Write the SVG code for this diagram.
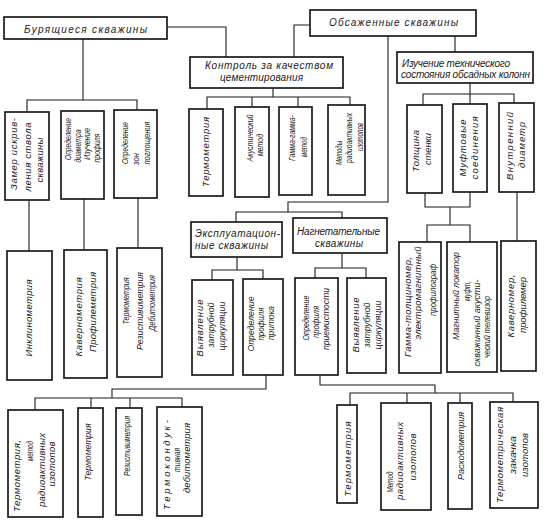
<svg xmlns="http://www.w3.org/2000/svg" width="546" height="520" viewBox="0 0 546 520">
<style>
rect.b{fill:#fff;stroke:#1a1a1a;stroke-width:1.7}
#connectors path{fill:none;stroke:#1a1a1a;stroke-width:1.1}
text{font-family:"Liberation Sans",Arial,sans-serif;font-style:italic;fill:#1a1a1a}
text.h{font-size:10px}
text.v{font-size:9.5px;text-anchor:middle}
</style>
<rect width="546" height="520" fill="#fff"/>
<g id="connectors">
<path d="M167 27H226V57"/>
<path d="M310 25H294V57"/>
<path d="M83 39V100M27 112V100H137V110"/>
<path d="M29 200V251M84 199V250M138 198V248"/>
<path d="M273 88V97M207 109V97H350V105M252 97V107M298 97V107"/>
<path d="M388 36V202H288V212M236 222V212H342V218"/>
<path d="M455 36V52"/>
<path d="M470 83V104M423 105V94H514V103"/>
<path d="M425 193V207H470V192M450 207V225M427 242V225H470V242"/>
<path d="M517 192V241"/>
<path d="M237 257V270M212 280V270H263V279"/>
<path d="M342 253V268M315 278V268H366V278"/>
<path d="M266 375V389H112V398M35 410V398H182V407M91 398V408M130 398V408"/>
<path d="M320 375V385H435V393M350 405V393H513V402M407 393V403M460 393V403"/>
</g>
<g id="n_bur"><rect class="b" x="4" y="17" width="163" height="22"/><text class="h" x="24" y="33" textLength="123">Бурящиеся  скважины</text></g>
<g id="n_obs"><rect class="b" x="310" y="10" width="166" height="26"/><text class="h" x="329" y="26" textLength="129">Обсаженные  скважины</text></g>
<g id="n_kontrol"><rect class="b" x="190" y="57" width="153" height="31"/><text class="h" x="205" y="69" textLength="128">Контроль за качеством</text><text class="h" x="220" y="81" textLength="83">цементирования</text></g>
<g id="n_izuch"><rect class="b" x="397" y="52" width="136" height="31"/><text class="h" x="402" y="67" textLength="108">Изучение технического</text><text class="h" x="401" y="78" textLength="129">состояния обсадных колонн</text></g>

<g id="n_zamer"><rect class="b" x="5" y="112" width="44" height="88"/>
<text class="v" transform="translate(17.3,154) rotate(-90)" textLength="72">Замер искрив-</text>
<text class="v" transform="translate(31.3,157) rotate(-90)" textLength="69">ления ствола</text>
<text class="v" transform="translate(43.3,160) rotate(-90)" textLength="45">скважины</text></g>
<g id="n_diam"><rect class="b" x="61" y="111" width="43" height="88"/>
<text class="v" transform="translate(71.3,139) rotate(-90)" textLength="42" lengthAdjust="spacingAndGlyphs">Определение</text>
<text class="v" transform="translate(81.3,146) rotate(-90)" textLength="33" lengthAdjust="spacingAndGlyphs">диаметра</text>
<text class="v" transform="translate(90.3,144) rotate(-90)" textLength="32" lengthAdjust="spacingAndGlyphs">Изучение</text>
<text class="v" transform="translate(100.3,148) rotate(-90)" textLength="29" lengthAdjust="spacingAndGlyphs">профиля</text></g>
<g id="n_zon"><rect class="b" x="114" y="110" width="43" height="88"/>
<text class="v" transform="translate(128.3,143) rotate(-90)" textLength="42" lengthAdjust="spacingAndGlyphs">Определение</text>
<text class="v" transform="translate(139.3,159) rotate(-90)" textLength="12" lengthAdjust="spacingAndGlyphs">зон</text>
<text class="v" transform="translate(150.3,143) rotate(-90)" textLength="43" lengthAdjust="spacingAndGlyphs">поглощения</text></g>

<g id="n_k_term"><rect class="b" x="189" y="109" width="34" height="87"/>
<text class="v" transform="translate(209.3,152) rotate(-90)" textLength="70">Термометрия</text></g>
<g id="n_k_akust"><rect class="b" x="235" y="107" width="34" height="90"/>
<text class="v" transform="translate(253.3,138) rotate(-90)" textLength="47" lengthAdjust="spacingAndGlyphs">Акустический</text>
<text class="v" transform="translate(263.3,145) rotate(-90)" textLength="22" lengthAdjust="spacingAndGlyphs">метод</text></g>
<g id="n_k_gamma"><rect class="b" x="279" y="107" width="33" height="88"/>
<text class="v" transform="translate(295.3,138) rotate(-90)" textLength="46" lengthAdjust="spacingAndGlyphs">Гамма-гамма-</text>
<text class="v" transform="translate(307.3,147) rotate(-90)" textLength="20" lengthAdjust="spacingAndGlyphs">метод</text></g>
<g id="n_k_metody"><rect class="b" x="328" y="105" width="37" height="90"/>
<text class="v" transform="translate(342.3,153) rotate(-90)" textLength="24" lengthAdjust="spacingAndGlyphs">Методы</text>
<text class="v" transform="translate(352.3,138) rotate(-90)" textLength="50" lengthAdjust="spacingAndGlyphs">радиоактивных</text>
<text class="v" transform="translate(363.3,137) rotate(-90)" textLength="28" lengthAdjust="spacingAndGlyphs">изотопов</text></g>

<g id="n_tolsh"><rect class="b" x="407" y="105" width="35" height="88"/>
<text class="v" transform="translate(419.3,151) rotate(-90)" textLength="42">Толщина</text>
<text class="v" transform="translate(431.3,149) rotate(-90)" textLength="32" lengthAdjust="spacingAndGlyphs">стенки</text></g>
<g id="n_muft"><rect class="b" x="453" y="104" width="34" height="88"/>
<text class="v" transform="translate(466.3,148) rotate(-90)" textLength="57">Муфтовые</text>
<text class="v" transform="translate(478.3,148) rotate(-90)" textLength="63">соединения</text></g>
<g id="n_vnutr"><rect class="b" x="499" y="103" width="35" height="89"/>
<text class="v" transform="translate(513.3,146) rotate(-90)" textLength="68">Внутренний</text>
<text class="v" transform="translate(525.3,145) rotate(-90)" textLength="46">диаметр</text></g>

<g id="n_inkl"><rect class="b" x="7" y="251" width="45" height="129"/>
<text class="v" transform="translate(32.3,318) rotate(-90)" textLength="77">Инклинометрия</text></g>
<g id="n_kavern"><rect class="b" x="64" y="250" width="43" height="128"/>
<text class="v" transform="translate(82.3,317) rotate(-90)" textLength="79">Кавернометрия</text>
<text class="v" transform="translate(96.3,312) rotate(-90)" textLength="80">Профилеметрия</text></g>
<g id="n_termrez"><rect class="b" x="117" y="248" width="45" height="129"/>
<text class="v" transform="translate(129.3,301) rotate(-90)" textLength="47" lengthAdjust="spacingAndGlyphs">Термометрия</text>
<text class="v" transform="translate(143.3,311) rotate(-90)" textLength="78" lengthAdjust="spacingAndGlyphs">Резистивиметрия</text>
<text class="v" transform="translate(155.3,303) rotate(-90)" textLength="56" lengthAdjust="spacingAndGlyphs">Дебитометрия</text></g>

<g id="n_ekspl"><rect class="b" x="191" y="222" width="91" height="35"/><text class="h" x="195" y="237" textLength="85">Эксплуатацион-</text><text class="h" x="195" y="249" textLength="73">ные скважины</text></g>
<g id="n_nagn"><rect class="b" x="293" y="218" width="94" height="35"/><text class="h" x="297" y="235" textLength="83">Нагнетательные</text><text class="h" x="315" y="247" textLength="48">скважины</text></g>

<g id="n_vyyav1"><rect class="b" x="192" y="280" width="41" height="95"/>
<text class="v" transform="translate(203.3,328) rotate(-90)" textLength="57">Выявление</text>
<text class="v" transform="translate(214.3,325) rotate(-90)" textLength="45" lengthAdjust="spacingAndGlyphs">затрубной</text>
<text class="v" transform="translate(225.3,326) rotate(-90)" textLength="49" lengthAdjust="spacingAndGlyphs">циркуляции</text></g>
<g id="n_pritok"><rect class="b" x="243" y="279" width="40" height="96"/>
<text class="v" transform="translate(254.3,324) rotate(-90)" textLength="55" lengthAdjust="spacingAndGlyphs">Определение</text>
<text class="v" transform="translate(264.3,324) rotate(-90)" textLength="33" lengthAdjust="spacingAndGlyphs">профиля</text>
<text class="v" transform="translate(274.3,323) rotate(-90)" textLength="34" lengthAdjust="spacingAndGlyphs">притока</text></g>
<g id="n_priem"><rect class="b" x="295" y="278" width="43" height="97"/>
<text class="v" transform="translate(309.3,318) rotate(-90)" textLength="45" lengthAdjust="spacingAndGlyphs">Определение</text>
<text class="v" transform="translate(319.3,322) rotate(-90)" textLength="32" lengthAdjust="spacingAndGlyphs">профиля</text>
<text class="v" transform="translate(329.3,319) rotate(-90)" textLength="62" lengthAdjust="spacingAndGlyphs">приемистости</text></g>
<g id="n_vyyav2"><rect class="b" x="347" y="278" width="39" height="95"/>
<text class="v" transform="translate(359.3,325) rotate(-90)" textLength="55">Выявление</text>
<text class="v" transform="translate(370.3,325) rotate(-90)" textLength="45" lengthAdjust="spacingAndGlyphs">затрубной</text>
<text class="v" transform="translate(381.3,325) rotate(-90)" textLength="49" lengthAdjust="spacingAndGlyphs">циркуляции</text></g>

<g id="n_gtolsh"><rect class="b" x="399" y="242" width="42" height="131"/>
<text class="v" transform="translate(411.3,307) rotate(-90)" textLength="100">Гамма-толщиномер,</text>
<text class="v" transform="translate(421.3,293) rotate(-90)" textLength="93">электромагнитный</text>
<text class="v" transform="translate(436.3,290) rotate(-90)" textLength="52" lengthAdjust="spacingAndGlyphs">профилограф</text></g>
<g id="n_magn"><rect class="b" x="447" y="242" width="50" height="130"/>
<text class="v" transform="translate(459.3,296) rotate(-90)" textLength="88" lengthAdjust="spacingAndGlyphs">Магнитный локатор</text>
<text class="v" transform="translate(470.3,291) rotate(-90)" textLength="20" lengthAdjust="spacingAndGlyphs">муфт,</text>
<text class="v" transform="translate(480.3,323) rotate(-90)" textLength="87" lengthAdjust="spacingAndGlyphs">скважинный акусти-</text>
<text class="v" transform="translate(490.3,327) rotate(-90)" textLength="62" lengthAdjust="spacingAndGlyphs">ческий телевизор</text></g>
<g id="n_kavprof"><rect class="b" x="501" y="241" width="35" height="130"/>
<text class="v" transform="translate(514.3,306) rotate(-90)" textLength="63">Каверномер,</text>
<text class="v" transform="translate(526.3,305) rotate(-90)" textLength="56">профилемер</text></g>

<g id="n_bl1"><rect class="b" x="8" y="410" width="55" height="107"/>
<text class="v" transform="translate(20.3,476) rotate(-90)" textLength="72">Термометрия,</text>
<text class="v" transform="translate(33.3,451) rotate(-90)" textLength="20" lengthAdjust="spacingAndGlyphs">метод</text>
<text class="v" transform="translate(45.3,470) rotate(-90)" textLength="74">радиоактивных</text>
<text class="v" transform="translate(55.3,464) rotate(-90)" textLength="45">изотопов</text></g>
<g id="n_bl2"><rect class="b" x="78" y="408" width="25" height="109"/>
<text class="v" transform="translate(91.3,452) rotate(-90)" textLength="57" lengthAdjust="spacingAndGlyphs">Термометрия</text></g>
<g id="n_bl3"><rect class="b" x="116" y="408" width="26" height="107"/>
<text class="v" transform="translate(130.3,446) rotate(-90)" textLength="60" lengthAdjust="spacingAndGlyphs">Резистивиметрия</text></g>
<g id="n_bl4"><rect class="b" x="157" y="407" width="45" height="109"/>
<text class="v" transform="translate(170.3,465) rotate(-90)" textLength="90">Термокондук-</text>
<text class="v" transform="translate(180.3,460) rotate(-90)" textLength="24" lengthAdjust="spacingAndGlyphs">тивная</text>
<text class="v" transform="translate(190.3,458) rotate(-90)" textLength="70">дебитометрия</text></g>

<g id="n_br1"><rect class="b" x="337" y="405" width="20" height="98"/>
<text class="v" transform="translate(350.5,459) rotate(-90)" textLength="75">Термометрия</text></g>
<g id="n_br2"><rect class="b" x="381" y="403" width="50" height="107"/>
<text class="v" transform="translate(393.3,482) rotate(-90)" textLength="21" lengthAdjust="spacingAndGlyphs">Метод</text>
<text class="v" transform="translate(403.3,461) rotate(-90)" textLength="78">радиоактивных</text>
<text class="v" transform="translate(416.3,457) rotate(-90)" textLength="47">изотопов</text></g>
<g id="n_br3"><rect class="b" x="448" y="403" width="24" height="106"/>
<text class="v" transform="translate(464.3,446) rotate(-90)" textLength="68" lengthAdjust="spacingAndGlyphs">Расходометрия</text></g>
<g id="n_br4"><rect class="b" x="490" y="402" width="48" height="106"/>
<text class="v" transform="translate(503.3,455) rotate(-90)" textLength="96">Термометрическая</text>
<text class="v" transform="translate(516.3,455) rotate(-90)" textLength="38" lengthAdjust="spacingAndGlyphs">закачка</text>
<text class="v" transform="translate(528.3,455) rotate(-90)" textLength="44">изотопов</text></g>
</svg>
